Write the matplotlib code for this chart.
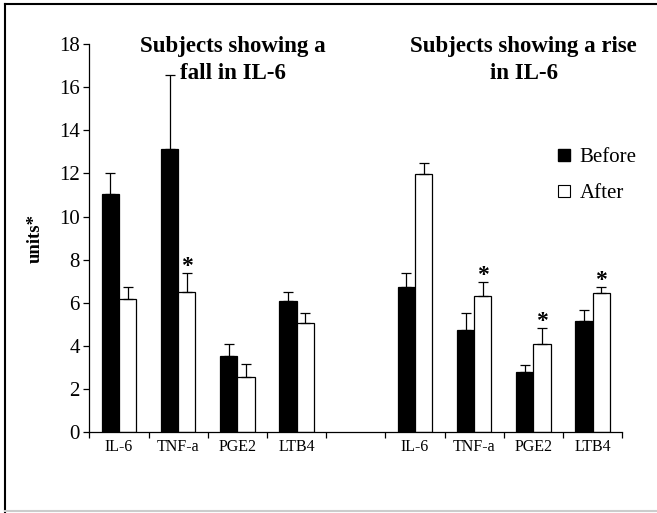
import numpy as np
import matplotlib
matplotlib.use("Agg")
import matplotlib.pyplot as plt
from matplotlib.lines import Line2D

# data (index 4 is the empty gap between the two groups)
labels = ["IL-6", "TNF-a", "PGE2", "LTB4", "", "IL-6", "TNF-a", "PGE2", "LTB4"]
before = [11.03, 13.13, 3.50, 6.09, np.nan, 6.73, 4.72, 2.76, 5.14]
before_err = [1.00, 3.44, 0.57, 0.40, np.nan, 0.63, 0.78, 0.35, 0.51]
after = [6.16, 6.50, 2.54, 5.03, np.nan, 11.97, 6.30, 4.07, 6.46]
after_err = [0.56, 0.89, 0.62, 0.47, np.nan, 0.53, 0.67, 0.73, 0.25]
signif = [False, True, False, False, False, False, True, True, True]

plt.rcParams['font.family'] = ['Liberation Serif', 'DejaVu Serif']

fig = plt.figure(figsize=(6.57, 5.13), dpi=100)
ax = fig.add_axes([0.136, 0.1585, 0.811, 0.755])

x = np.arange(len(labels))
w = 0.29
ax.bar(x - w / 2, before, w, color='black', edgecolor='black', linewidth=0.9, label='Before')
ax.bar(x + w / 2, after, w, color='white', edgecolor='black', linewidth=0.9, label='After')
ax.errorbar(x - w / 2, before, yerr=[np.zeros(len(x)), before_err], fmt='none',
            ecolor='black', elinewidth=0.9, capsize=3.6, capthick=0.9)
ax.errorbar(x + w / 2, after, yerr=[np.zeros(len(x)), after_err], fmt='none',
            ecolor='black', elinewidth=0.9, capsize=3.6, capthick=0.9)

for i in range(len(x)):
    if signif[i]:
        ax.text(x[i] + w / 2, after[i] + after_err[i] - 0.18, '*', ha='center', va='bottom',
                fontsize=17, fontweight='bold')

ax.set_xlim(-0.5, 8.5)
ax.set_ylim(0, 18)
ax.set_yticks(range(0, 19, 2))
ax.set_xticks(np.arange(-0.5, 9, 1))
ax.set_xticklabels([])
ax.set_xticks(x, minor=True)
ax.set_xticklabels(labels, minor=True, fontsize=11.5)
ax.tick_params(axis='x', which='minor', length=0, pad=5)
ax.tick_params(axis='x', which='major', direction='out', length=4, width=0.9)
ax.tick_params(axis='y', direction='out', length=4, width=0.9, labelsize=15, pad=3)
for s in ['top', 'right']:
    ax.spines[s].set_visible(False)
for s in ['left', 'bottom']:
    ax.spines[s].set_linewidth(0.9)

ax.set_ylabel('units*', fontsize=13.5, fontweight='bold', labelpad=11)

fig.text(0.355, 0.93, 'Subjects showing a\nfall in IL-6', ha='center', va='top',
         fontsize=16.5, fontweight='bold', linespacing=1.4)
fig.text(0.797, 0.93, 'Subjects showing a rise\nin IL-6', ha='center', va='top',
         fontsize=16.5, fontweight='bold', linespacing=1.4)

handles = [Line2D([], [], marker='s', linestyle='none', markersize=8,
                  markerfacecolor='black', markeredgecolor='black'),
           Line2D([], [], marker='s', linestyle='none', markersize=8,
                  markerfacecolor='white', markeredgecolor='black', markeredgewidth=0.8)]
fig.legend(handles, ['Before', 'After'], loc='upper left', bbox_to_anchor=(0.835, 0.729),
           frameon=False, fontsize=15, handlelength=0.7, handletextpad=0.4,
           labelspacing=0.8, borderaxespad=0)

# figure border: black on left/top, light grey at bottom
fig.add_artist(Line2D([0.008, 0.008], [0.0, 0.992], transform=fig.transFigure,
                      color='black', linewidth=1.5))
fig.add_artist(Line2D([0.008, 1.0], [0.992, 0.992], transform=fig.transFigure,
                      color='black', linewidth=1.5))
fig.add_artist(Line2D([0.008, 1.0], [0.003, 0.003], transform=fig.transFigure,
                      color='#cccccc', linewidth=1.5))

fig.savefig('out.png', dpi=100)
